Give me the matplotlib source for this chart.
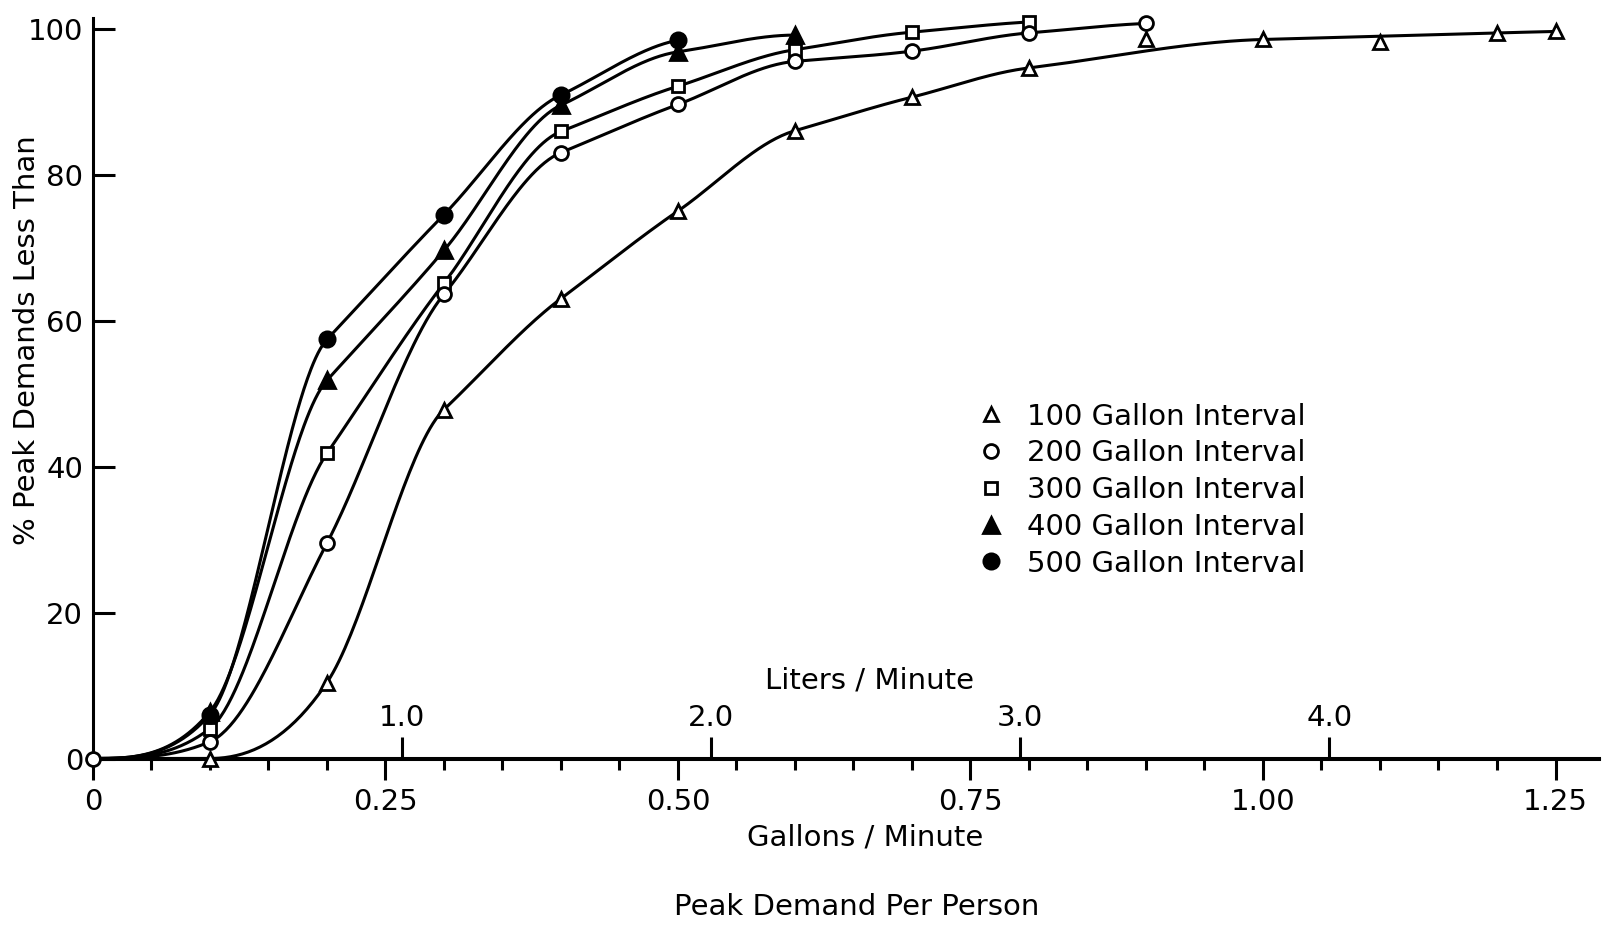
import numpy as np
import matplotlib
matplotlib.use("Agg")
import matplotlib.pyplot as plt
from matplotlib.lines import Line2D

plt.rcParams.update({
    "font.family": ["DejaVu Sans"],
    "font.size": 21,
    "axes.linewidth": 2.2,
    "text.color": "black",
})

# cumulative % of peak demands below a given per-person demand (gal/min)
gpm = [0.0, 0.1, 0.2, 0.3, 0.4, 0.5, 0.6, 0.7, 0.8, 0.9, 1.0, 1.1, 1.2, 1.25]
pct_100 = [0.0, 0.0, 10.4, 47.8, 63.0, 75.0, 86.0, 90.6, 94.6, 98.5, 98.5, 98.2, 99.4, 99.6]
pct_200 = [0.0, 2.3, 29.5, 63.6, 83.0, 89.6, 95.5, 96.9, 99.4, 100.7]
pct_300 = [0.0, 4.1, 41.8, 65.1, 85.9, 92.1, 97.1, 99.5, 100.9]
pct_400 = [0.0, 6.4, 51.8, 69.6, 89.5, 96.8, 99.1]
pct_500 = [0.0, 6.0, 57.4, 74.5, 90.9, 98.4]

# readings the hand-faired 100 gal curve does not pass through
off_curve_100 = [0.9, 1.1]

series = [
    ("100 Gallon Interval", pct_100, dict(marker="^", ms=10, mfc="white")),
    ("200 Gallon Interval", pct_200, dict(marker="o", ms=10, mfc="white")),
    ("300 Gallon Interval", pct_300, dict(marker="s", ms=9, mfc="white")),
    ("400 Gallon Interval", pct_400, dict(marker="^", ms=11, mfc="black")),
    ("500 Gallon Interval", pct_500, dict(marker="o", ms=11, mfc="black")),
]

GAL_TO_L = 3.785


def faired(x, y, xs):
    """Monotone piecewise cubic through the readings.

    Where the slope drops the tangent follows the flatter side, so knees stay
    crisp; where it rises the two slopes are averaged for a smooth toe.
    """
    x = np.asarray(x, float); y = np.asarray(y, float)
    h = np.diff(x); d = np.diff(y) / h
    m = np.zeros_like(y)
    for k in range(1, len(x) - 1):
        if d[k - 1] * d[k] > 0:
            if abs(d[k]) < abs(d[k - 1]):
                m[k] = d[k]
            else:
                m[k] = (h[k] * d[k - 1] + h[k - 1] * d[k]) / (h[k - 1] + h[k])
    if len(x) > 2:
        m[0] = ((2 * h[0] + h[1]) * d[0] - h[0] * d[1]) / (h[0] + h[1])
        if m[0] * d[0] <= 0:
            m[0] = 0.0
        m[-1] = ((2 * h[-1] + h[-2]) * d[-1] - h[-1] * d[-2]) / (h[-1] + h[-2])
        if m[-1] * d[-1] <= 0:
            m[-1] = 0.0
    # Fritsch-Carlson limiter
    for k in range(len(d)):
        if d[k] == 0:
            m[k] = m[k + 1] = 0.0
        else:
            a, b = m[k] / d[k], m[k + 1] / d[k]
            s = a * a + b * b
            if s > 9:
                t = 3 / np.sqrt(s)
                m[k], m[k + 1] = t * a * d[k], t * b * d[k]
    idx = np.clip(np.searchsorted(x, xs) - 1, 0, len(x) - 2)
    t = (xs - x[idx]) / h[idx]
    h00 = 2 * t**3 - 3 * t**2 + 1; h10 = t**3 - 2 * t**2 + t
    h01 = -2 * t**3 + 3 * t**2; h11 = t**3 - t**2
    return (h00 * y[idx] + h10 * h[idx] * m[idx]
            + h01 * y[idx + 1] + h11 * h[idx] * m[idx + 1])


fig = plt.figure(figsize=(16.02, 9.25), dpi=100)
ax = fig.add_axes([0.058, 0.180, 0.94, 0.801])

handles = []
for i, (label, pct, style) in enumerate(series):
    xs = np.array(gpm[:len(pct)]); ys = np.array(pct)
    keep = np.ones(len(xs), bool)
    if i == 0:
        keep = ~np.isin(np.round(xs, 2), off_curve_100)
    xx = np.linspace(xs[0], xs[-1], 500)
    ax.plot(xx, faired(xs[keep], ys[keep], xx), color="black", lw=2.2,
            zorder=2, clip_on=False)
    # common origin is marked once, with the open circle
    every = slice(0, None) if i == 1 else slice(1, None)
    ax.plot(xs, ys, ls="none", color="black", mec="black", mew=2.0,
            markevery=every, zorder=3 if i != 1 else 4, clip_on=False, **style)
    handles.append(Line2D([], [], ls="none", color="black", mec="black", mew=2.0, **style))

ax.set_xlim(0, 1.287)
ax.set_ylim(0, 101.5)
for s in ("top", "right"):
    ax.spines[s].set_visible(False)

ax.set_xticks([0, 0.25, 0.5, 0.75, 1.0, 1.25])
ax.set_xticklabels(["0", "0.25", "0.50", "0.75", "1.00", "1.25"])
ax.set_xticks(np.arange(0.05, 1.25, 0.05), minor=True)
ax.tick_params(axis="x", which="major", direction="out", length=15, width=2.2, pad=6)
ax.tick_params(axis="x", which="minor", direction="out", length=8, width=2.2)
ax.set_yticks(range(0, 101, 20))
ax.tick_params(axis="y", direction="in", length=16, width=2.2, pad=7)
ax.set_xlabel("Gallons / Minute", labelpad=6)
ax.xaxis.label.set_x(0.513)
ax.set_ylabel("% Peak Demands Less Than")
ax.yaxis.set_label_coords(-0.044, 0.564)
ax.yaxis.label.set_va("center")

# litres per minute scale riding on top of the gallon axis
sec = ax.secondary_xaxis("top", functions=(lambda g: g * GAL_TO_L, lambda l: l / GAL_TO_L))
sec.set_location(0.0)
sec.set_xticks([1.0, 2.0, 3.0, 4.0])
sec.set_xticklabels(["1.0", "2.0", "3.0", "4.0"])
sec.tick_params(axis="x", direction="out", length=15, width=2.2, pad=4)
sec.set_xlabel("Liters / Minute", labelpad=11)
sec.xaxis.label.set_x(0.516)

ax.legend(handles, [s[0] for s in series], loc="upper left",
          bbox_to_anchor=(0.577, 0.50), frameon=False, handlelength=1.0,
          handletextpad=0.72, labelspacing=0.3, borderpad=0, fontsize=21)

fig.text(0.535, 0.019, "Peak Demand Per Person", ha="center", va="center", fontsize=21)

fig.savefig("out.png", facecolor="white")
